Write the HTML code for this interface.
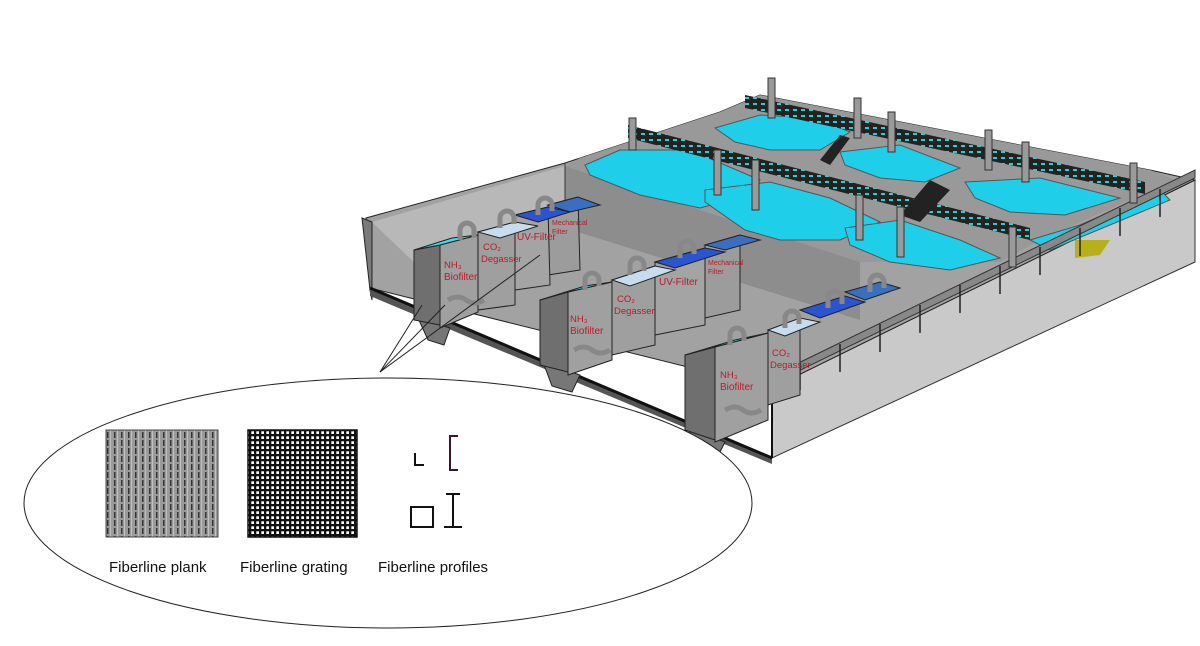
<!DOCTYPE html>
<html><head><meta charset="utf-8"><style>
html,body{margin:0;padding:0;background:#fff;}
svg{display:block}
text{font-family:"Liberation Sans",sans-serif}
.lbl{font-size:15px;fill:#111}
.red{fill:#b81c28;font-size:9.5px}
</style></head><body>
<svg width="1200" height="646" viewBox="0 0 1200 646" xmlns="http://www.w3.org/2000/svg">
<defs>
<pattern id="grid" width="5" height="5" patternUnits="userSpaceOnUse"><rect width="5" height="5" fill="#111"/><rect x="1.3" y="1.3" width="2.7" height="2.7" fill="#fff"/></pattern>
<pattern id="plank" width="7" height="8" patternUnits="userSpaceOnUse"><rect width="7" height="8" fill="#9a9a9a"/><rect x="2" y="0" width="1.5" height="6" fill="#333"/><rect x="5" width="0.6" height="8" fill="#ddd"/></pattern>
<pattern id="rail" width="8" height="6" patternUnits="userSpaceOnUse"><rect width="8" height="6" fill="#222"/><rect x="1" y="1" width="4" height="2" fill="#3cc"/></pattern>
</defs>

<polygon points="772,388 1195,180 1195,262 772,458" fill="#c9c9c9" stroke="#333"/>
<polygon points="366,218 565,163 720,112 760,95 1150,170 1195,180 772,388 370,288" fill="#a2a2a2" stroke="#222"/>
<polygon points="372,222 565,166 565,228 420,268" fill="#b8b8b8"/>
<polygon points="565,166 860,262 860,320 565,228" fill="#8d8d8d"/>
<line x1="565" y1="163" x2="565" y2="228" stroke="#333"/>
<polygon points="362,218 372,222 372,300 370,290" fill="#7a7a7a" stroke="#222"/>
<polygon points="370,288 772,458 772,464 370,296" fill="#555"/>
<line x1="370" y1="288" x2="772" y2="458" stroke="#111" stroke-width="3"/>
<line x1="772" y1="388" x2="772" y2="458" stroke="#111" stroke-width="2"/>

<polygon points="580,158 720,112 760,95 1150,170 1175,180 1040,240 1000,262 860,262 565,166" fill="#999"/>
<g fill="#1fcfea" stroke="#555">
<polygon points="585,165 620,150 690,150 760,180 730,200 700,208 640,195 590,175"/>
<polygon points="705,190 770,182 830,198 880,222 840,240 780,240 745,230 705,202"/>
<polygon points="845,228 900,220 960,240 1000,258 950,270 890,262 850,245"/>
<polygon points="715,128 760,115 815,118 850,132 820,150 770,150 735,142"/>
<polygon points="840,152 900,145 960,168 925,182 880,178 845,165"/>
<polygon points="965,182 1040,178 1120,198 1065,215 1010,212 975,198"/>
<polygon points="1030,240 1080,225 1160,190 1170,200 1050,250"/>
</g>
<polygon points="628,125 1030,228 1030,240 628,138" fill="url(#rail)"/>
<polygon points="745,95 1145,182 1145,194 745,108" fill="url(#rail)"/>
<polygon points="820,160 840,135 850,138 830,165" fill="#222"/>
<polygon points="900,215 930,180 950,190 920,222" fill="#222"/>
<polygon points="1075,240 1110,240 1100,255 1075,258" fill="#b8b01a"/>
<polygon points="780,372 1195,170 1195,178 780,380" fill="#888" stroke="#333"/>
<g stroke="#222" stroke-width="1.5">
<line x1="800" y1="363" x2="800" y2="390"/><line x1="840" y1="344" x2="840" y2="372"/><line x1="880" y1="324" x2="880" y2="352"/><line x1="920" y1="305" x2="920" y2="333"/><line x1="960" y1="285" x2="960" y2="313"/><line x1="1000" y1="266" x2="1000" y2="294"/><line x1="1040" y1="247" x2="1040" y2="275"/><line x1="1080" y1="228" x2="1080" y2="256"/><line x1="1120" y1="208" x2="1120" y2="236"/><line x1="1160" y1="189" x2="1160" y2="217"/>
</g>
<g fill="#9a9a9a" stroke="#333">
<rect x="629" y="118" width="7" height="32"/><rect x="768" y="78" width="7" height="40"/>
<rect x="714" y="150" width="7" height="45"/><rect x="752" y="160" width="7" height="50"/>
<rect x="854" y="98" width="7" height="40"/><rect x="888" y="112" width="7" height="40"/>
<rect x="856" y="195" width="7" height="45"/><rect x="897" y="207" width="7" height="50"/>
<rect x="985" y="130" width="7" height="40"/><rect x="1022" y="142" width="7" height="40"/>
<rect x="1130" y="163" width="7" height="40"/><rect x="1009" y="227" width="7" height="40"/>
</g>

<g fill="#777" stroke="#222"><polygon points="418,318 450,328 444,345 428,340"/><polygon points="543,362 580,375 572,392 552,386"/><polygon points="688,428 725,442 716,460 698,455"/></g>
<g stroke="#222" stroke-width="1">
<polygon points="548,205 578,197 580,270 548,275" fill="#9c9c9c"/><polygon points="548,205 578,197 600,205 570,212" fill="#3a6fc0"/>
<polygon points="515,215 548,207 550,285 515,290" fill="#a4a4a4"/><polygon points="515,215 548,207 570,212 538,222" fill="#2b55d0"/>
<polygon points="478,232 515,222 515,305 478,310" fill="#9f9f9f"/><polygon points="478,232 515,222 538,226 500,238" fill="#c8dcf0"/>
<polygon points="414,250 440,245 440,325 414,320" fill="#6f6f6f"/><polygon points="440,245 478,235 478,312 440,328" fill="#a0a0a0"/><polygon points="414,250 452,238 478,235 440,245" fill="#40d8ee"/>
<polygon points="705,245 740,235 740,310 705,318" fill="#9c9c9c"/><polygon points="705,245 740,235 760,240 725,250" fill="#3a6fc0"/>
<polygon points="655,262 705,248 705,325 655,335" fill="#a4a4a4"/><polygon points="655,262 705,248 725,252 675,268" fill="#2b55d0"/>
<polygon points="612,280 655,266 655,345 612,355" fill="#9f9f9f"/><polygon points="612,280 655,266 675,270 630,286" fill="#c8dcf0"/>
<polygon points="540,300 568,292 568,372 540,365" fill="#6f6f6f"/><polygon points="568,292 612,282 612,360 568,375" fill="#a0a0a0"/><polygon points="540,300 585,286 612,282 568,292" fill="#40d8ee"/>
<polygon points="845,292 880,282 900,288 865,300" fill="#3a6fc0"/>
<polygon points="800,310 845,296 865,302 820,318" fill="#2b55d0"/>
<polygon points="768,330 800,320 800,395 768,405" fill="#9f9f9f"/><polygon points="768,330 800,318 820,322 785,336" fill="#c8dcf0"/>
<polygon points="685,355 715,347 715,440 685,430" fill="#6f6f6f"/><polygon points="715,347 768,333 768,420 715,442" fill="#a0a0a0"/><polygon points="685,355 735,340 768,333 715,347" fill="#40d8ee"/>
</g>
<g fill="none" stroke="#888" stroke-width="5"><path d="M460,240 v-10 a7,7 0 0 1 14,0 v8"/><path d="M500,228 v-10 a7,7 0 0 1 14,0 v6"/><path d="M538,215 v-10 a7,7 0 0 1 14,0 v6"/><path d="M585,290 v-10 a7,7 0 0 1 14,0 v6"/><path d="M630,275 v-10 a7,7 0 0 1 14,0 v6"/><path d="M680,258 v-10 a7,7 0 0 1 14,0 v6"/><path d="M730,345 v-10 a7,7 0 0 1 14,0 v6"/><path d="M785,328 v-10 a7,7 0 0 1 14,0 v6"/><path d="M828,308 v-10 a7,7 0 0 1 14,0 v6"/><path d="M870,292 v-10 a7,7 0 0 1 14,0 v6"/>
<path d="M448,300 q10,-6 18,0 t18,0"/><path d="M574,350 q10,-6 18,0 t18,0"/><path d="M725,410 q10,-6 18,0 t18,0"/></g>
<g class="red">
<text x="444" y="268">NH₃</text><text x="444" y="280" font-size="10">Biofilter</text>
<text x="483" y="250">CO₂</text><text x="481" y="262">Degasser</text>
<text x="517" y="240" font-size="10">UV-Filter</text>
<text x="552" y="225" font-size="7">Mechanical</text><text x="552" y="234" font-size="7">Filter</text>
<text x="570" y="322">NH₃</text><text x="570" y="334" font-size="10">Biofilter</text>
<text x="617" y="302">CO₂</text><text x="614" y="314">Degasser</text>
<text x="659" y="285" font-size="10">UV-Filter</text>
<text x="708" y="265" font-size="7">Mechanical</text><text x="708" y="274" font-size="7">Filter</text>
<text x="720" y="378">NH₃</text><text x="720" y="390" font-size="10">Biofilter</text>
<text x="772" y="356">CO₂</text><text x="770" y="368">Degasser</text>
</g>

<ellipse cx="388" cy="503" rx="364" ry="125" fill="#fff" stroke="#222" stroke-width="1"/>
<g stroke="#222" stroke-width="1"><line x1="380" y1="372" x2="422" y2="305"/><line x1="380" y1="372" x2="445" y2="305"/><line x1="380" y1="372" x2="540" y2="255"/></g>
<rect x="106" y="430" width="112" height="107" fill="url(#plank)" stroke="#444"/>
<rect x="248" y="430" width="109" height="107" fill="url(#grid)" stroke="#111" stroke-width="1.5"/>
<g fill="none" stroke="#111" stroke-width="2">
<path d="M415,453 v12 h9"/>
<path d="M458,436 h-8 v34 h8" stroke="#3a1530"/>
<rect x="411" y="507" width="22" height="20"/>
<path d="M446,494 h14 M453,494 v33 M444,527 h18"/>
</g>
<text class="lbl" x="109" y="572">Fiberline plank</text>
<text class="lbl" x="240" y="572">Fiberline grating</text>
<text class="lbl" x="378" y="572">Fiberline profiles</text>
</svg>
</body></html>
